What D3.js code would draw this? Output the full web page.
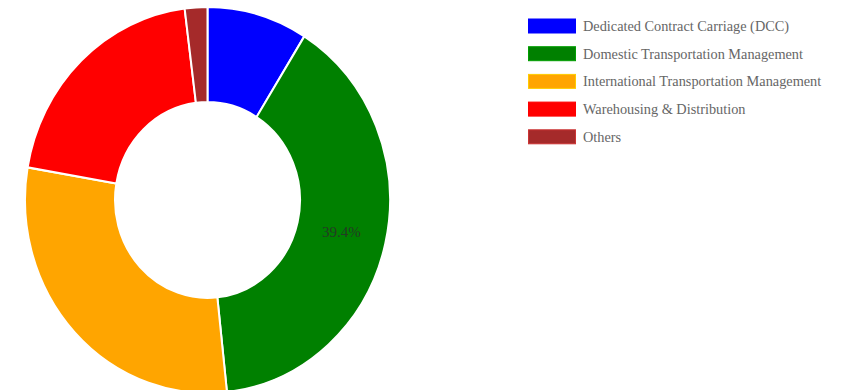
<!DOCTYPE html>
<html>
<head>
<meta charset="utf-8">
<script src="https://cdn.jsdelivr.net/npm/d3@7"></script>
<style>
  html, body { margin: 0; padding: 0; background: #fff; overflow: hidden; }
  svg { display: block; }
</style>
</head>
<body>
<svg id="chart" width="846" height="390"></svg>
<script>
// segment shares (%)
const categories = [
  'Dedicated Contract Carriage (DCC)',
  'Domestic Transportation Management',
  'International Transportation Management',
  'Warehousing & Distribution',
  'Others'
];
const shares = [8.9, 39.4, 29.4, 20.3, 2.0];
const colours = ['blue', 'green', 'orange', 'red', 'brown'];
const shownLabels = ['39.4%'];

const svg = d3.select('#chart');

const cx = 207.5;
const cy = 200;
const outerR = 182.5;
const innerR = 92.5;
const stretchY = 1.058; // the doughnut is drawn slightly taller than wide

const data = categories.map((name, i) => ({ name, value: shares[i], colour: colours[i] }));

const pie = d3.pie().value(d => d.value).sort(null);
const arc = d3.arc().innerRadius(innerR).outerRadius(outerR);
const arcs = pie(data);

const g = svg.append('g')
  .attr('transform', `translate(${cx}, ${cy}) scale(1, ${stretchY})`);

g.selectAll('path')
  .data(arcs)
  .enter()
  .append('path')
  .attr('d', arc)
  .attr('fill', d => d.data.colour)
  .attr('stroke', '#fff')
  .attr('stroke-width', 2);

// only the big slice carries a visible label
const labels = svg.append('g');
arcs.forEach(a => {
  const txt = a.data.value.toFixed(1) + '%';
  if (!shownLabels.includes(txt)) return;
  const c = arc.centroid(a);
  labels.append('text')
    .attr('x', cx + c[0])
    .attr('y', cy + c[1] * stretchY - 1)
    .attr('text-anchor', 'middle')
    .attr('dominant-baseline', 'central')
    .attr('font-family', '"Liberation Serif", "Times New Roman", serif')
    .attr('font-size', 15)
    .attr('fill', '#243a24')
    .text(txt);
});

// legend
const legendX = 528;
const legendY = 26;
const rowGap = 27.7;

const legend = svg.append('g');
const rows = legend.selectAll('g')
  .data(data)
  .enter()
  .append('g')
  .attr('transform', (d, i) => `translate(${legendX}, ${legendY + i * rowGap})`);

rows.append('rect')
  .attr('x', 0.5)
  .attr('y', -7)
  .attr('width', 47)
  .attr('height', 14)
  .attr('fill', d => d.colour)
  .attr('stroke', d => d3.color(d.colour).brighter(0.6))
  .attr('stroke-width', 1);

rows.append('text')
  .attr('x', 55)
  .attr('y', 0)
  .attr('dominant-baseline', 'central')
  .attr('font-family', '"Liberation Serif", "Times New Roman", serif')
  .attr('font-size', 14.3)
  .attr('fill', '#666')
  .text(d => d.name);
</script>
</body>
</html>
